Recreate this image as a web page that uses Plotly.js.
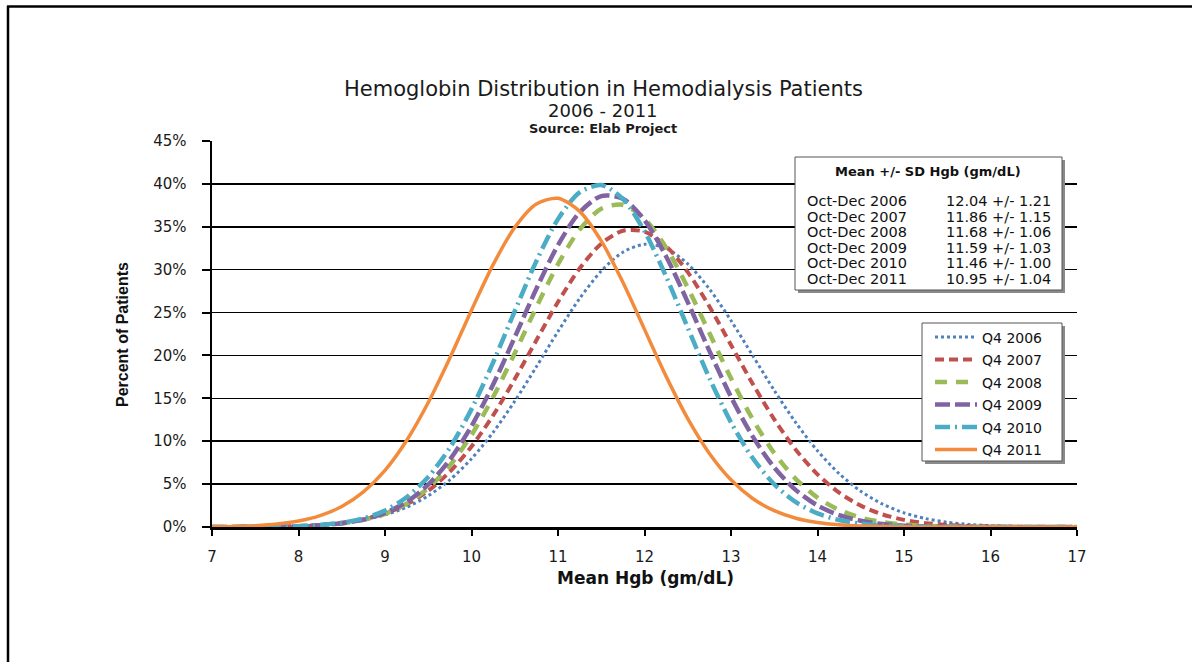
<!DOCTYPE html>
<html>
<head>
<meta charset="utf-8">
<script src="https://cdn.plot.ly/plotly-3.0.1.min.js"></script>
<style>html,body{margin:0;padding:0;background:#fff;}#chart{width:1192px;height:662px;}</style>
</head>
<body>
<div id="chart"></div>
<script>
// Hemoglobin values (gm/dL)
const hgb = [7,7.25,7.5,7.75,8,8.25,8.5,8.75,9,9.25,9.5,9.75,10,10.25,10.5,10.75,11,11.25,11.5,11.75,12,12.25,12.5,12.75,13,13.25,13.5,13.75,14,14.25,14.5,14.75,15,15.25,15.5,15.75,16,16.25,16.5,16.75,17];
// Percent of patients per series
const q2006 = [0.01,0.01,0.03,0.06,0.13,0.24,0.46,0.82,1.41,2.31,3.64,5.50,7.96,11.04,14.67,18.68,22.79,26.64,29.84,32.04,32.95,32.48,30.67,27.75,24.07,20.00,15.92,12.15,8.88,6.22,4.17,2.68,1.65,0.98,0.55,0.30,0.16,0.08,0.04,0.02,0.01];
const q2007 = [0.01,0.01,0.03,0.06,0.12,0.25,0.49,0.90,1.57,2.64,4.22,6.45,9.38,13.02,17.24,21.77,26.23,30.14,33.03,34.53,34.43,32.75,29.71,25.71,21.22,16.71,12.55,8.99,6.14,4.00,2.49,1.47,0.83,0.45,0.23,0.11,0.05,0.02,0.01,0,0];
const q2008 = [0,0.01,0.02,0.04,0.09,0.20,0.42,0.83,1.54,2.72,4.54,7.17,10.72,15.15,20.26,25.62,30.64,34.67,37.10,37.56,35.96,32.57,27.91,22.61,17.34,12.57,8.62,5.59,3.43,1.99,1.09,0.57,0.28,0.13,0.06,0.02,0.01,0,0,0,0];
const q2009 = [0,0.01,0.02,0.04,0.09,0.20,0.43,0.87,1.64,2.93,4.94,7.86,11.76,16.61,22.12,27.77,32.87,36.68,38.58,38.27,35.78,31.54,26.22,20.54,15.17,10.57,6.94,4.30,2.51,1.38,0.72,0.35,0.16,0.07,0.03,0.01,0,0,0,0,0];
const q2010 = [0,0.01,0.02,0.04,0.10,0.23,0.50,1.01,1.93,3.47,5.84,9.25,13.74,19.19,25.16,31.00,35.89,39.02,39.86,38.25,34.48,29.20,23.23,17.36,12.19,8.04,4.98,2.90,1.58,0.81,0.39,0.18,0.08,0.03,0.01,0,0,0,0,0,0];
const q2011 = [0.03,0.07,0.16,0.34,0.69,1.32,2.39,4.10,6.61,10.09,14.52,19.71,25.28,30.58,34.93,37.66,38.32,36.80,33.35,28.53,23.04,17.56,12.64,8.58,5.50,3.32,1.90,1.02,0.52,0.25,0.11,0.05,0.02,0.01,0,0,0,0,0,0,0];
const seriesNames = ['Q4 2006','Q4 2007','Q4 2008','Q4 2009','Q4 2010','Q4 2011'];
const boxLabels = ['Oct-Dec 2006','Oct-Dec 2007','Oct-Dec 2008','Oct-Dec 2009','Oct-Dec 2010','Oct-Dec 2011'];
const boxStats = ['12.04 +/- 1.21','11.86 +/- 1.15','11.68 +/- 1.06','11.59 +/- 1.03','11.46 +/- 1.00','10.95 +/- 1.04'];
const xTicks = [7,8,9,10,11,12,13,14,15,16,17];
const yTicks = [0,5,10,15,20,25,30,35,40,45];

const W = 1192, H = 662;
const L = 212, R = 1077, T = 141, B = 527;
const px = x => (x - L) / (R - L);
const py = y => (B - y) / (B - T);

const styles = [
  {color:'#4F81BD', width:3, dash:'dot'},
  {color:'#C0504D', width:4, dash:'9px,5px'},
  {color:'#9BBB59', width:4.5, dash:'12px,9px'},
  {color:'#8064A2', width:4.5, dash:'15px,5px'},
  {color:'#4BACC6', width:4.5, dash:'15px,5px,2px,5px'},
  {color:'#F38B3C', width:3.5, dash:'solid'}
];
const values = [q2006,q2007,q2008,q2009,q2010,q2011];
const traces = values.map((v,i) => ({
  x: hgb, y: v, type:'scatter', mode:'lines', name: seriesNames[i],
  legendgroup: 'g'+i,
  line: Object.assign({shape:'spline', smoothing:0.8}, styles[i]),
  hoverinfo:'x+y'
}));

const font = 'DejaVu Sans, Verdana, sans-serif';
const ann = [];
ann.push({xref:'paper', yref:'paper', x:px(603), y:py(89), xanchor:'center', yanchor:'middle', showarrow:false,
  text:'Hemoglobin Distribution in Hemodialysis Patients', font:{family:font, size:21, color:'#1a1a1a'}});
ann.push({xref:'paper', yref:'paper', x:px(603), y:py(111), xanchor:'center', yanchor:'middle', showarrow:false,
  text:'2006 - 2011', font:{family:font, size:18, color:'#1a1a1a'}});
ann.push({xref:'paper', yref:'paper', x:px(603), y:py(129), xanchor:'center', yanchor:'middle', showarrow:false,
  text:'<b>Source: Elab Project</b>', font:{family:font, size:13, color:'#1a1a1a'}});
ann.push({xref:'paper', yref:'paper', x:px(645), y:py(578), xanchor:'center', yanchor:'middle', showarrow:false,
  text:'<b>Mean Hgb (gm/dL)</b>', font:{family:font, size:17, color:'#111'}});
ann.push({xref:'paper', yref:'paper', x:px(122), y:py(335), xanchor:'center', yanchor:'middle', showarrow:false, textangle:-90,
  text:'<b>Percent of Patients</b>', font:{family:'Liberation Sans Narrow, Liberation Sans, sans-serif', size:16, color:'#111'}});
// stats box
ann.push({xref:'paper', yref:'paper', x:px(928), y:py(171), xanchor:'center', yanchor:'middle', showarrow:false,
  text:'<b>Mean +/- SD Hgb (gm/dL)</b>', font:{family:font, size:13, color:'#111'}});
boxLabels.forEach((t,i) => {
  const yy = 201 + i*15.5;
  ann.push({xref:'paper', yref:'paper', x:px(805), y:py(yy), xanchor:'left', yanchor:'middle', showarrow:false,
    text:t, font:{family:font, size:14.5, color:'#111'}});
  ann.push({xref:'paper', yref:'paper', x:px(1053), y:py(yy), xanchor:'right', yanchor:'middle', showarrow:false,
    text:boxStats[i], font:{family:font, size:14.5, color:'#111'}});
});

const shapes = [
  // outer frame lines
  {type:'line', xref:'paper', yref:'paper', x0:px(7), x1:px(1200), y0:py(6.5), y1:py(6.5), line:{color:'#000', width:2.5}},
  {type:'line', xref:'paper', yref:'paper', x0:px(8), x1:px(8), y0:py(6), y1:py(670), line:{color:'#000', width:2.5}},
  // stats box shadow + box
  {type:'rect', xref:'paper', yref:'paper', layer:'above', x0:px(798), x1:px(1065), y0:py(160), y1:py(293), fillcolor:'#8a8a8a', line:{width:0}},
  {type:'rect', xref:'paper', yref:'paper', layer:'above', x0:px(795), x1:px(1062), y0:py(157), y1:py(290), fillcolor:'#fff', line:{color:'#555', width:1}},
  // legend shadow + box
  {type:'rect', xref:'paper', yref:'paper', layer:'above', x0:px(925), x1:px(1065), y0:py(326), y1:py(464), fillcolor:'#8a8a8a', line:{width:0}},
  {type:'rect', xref:'paper', yref:'paper', layer:'above', x0:px(922), x1:px(1062), y0:py(323), y1:py(461), fillcolor:'#fff', line:{color:'#555', width:1}}
];

const layout = {
  width: W, height: H,
  margin: {l:L, r:W-R, t:T, b:H-B, pad:0},
  paper_bgcolor:'#fff', plot_bgcolor:'#fff',
  showlegend:true,
  legend: {x:px(930), y:py(321.5), xanchor:'left', yanchor:'top', bgcolor:'rgba(0,0,0,0)', borderwidth:0,
    font:{family:font, size:14, color:'#111'}, tracegroupgap:1.3, itemwidth:42, traceorder:'grouped'},
  xaxis: {range:[7,17], tickvals:xTicks, ticktext:xTicks.map(String), showgrid:false, zeroline:false,
    showline:true, linecolor:'#000', linewidth:2.5, ticks:'outside', ticklen:6, tickwidth:2, tickcolor:'#000',
    ticklabelstandoff:8, tickfont:{family:font, size:15, color:'#1a1a1a'}, fixedrange:true},
  yaxis: {range:[0,45], tickvals:yTicks, ticktext:yTicks.map(v=>v+'%'), showgrid:true, gridcolor:'#000', gridwidth:1.6,
    zeroline:false, showline:true, linecolor:'#000', linewidth:2.5, ticks:'outside', ticklen:8, tickwidth:2, tickcolor:'#000',
    ticklabelstandoff:12, tickfont:{family:font, size:15, color:'#1a1a1a'}, fixedrange:true},
  annotations: ann,
  shapes: shapes
};
Plotly.newPlot('chart', traces, layout, {displayModeBar:false, staticPlot:true});
</script>
</body>
</html>
